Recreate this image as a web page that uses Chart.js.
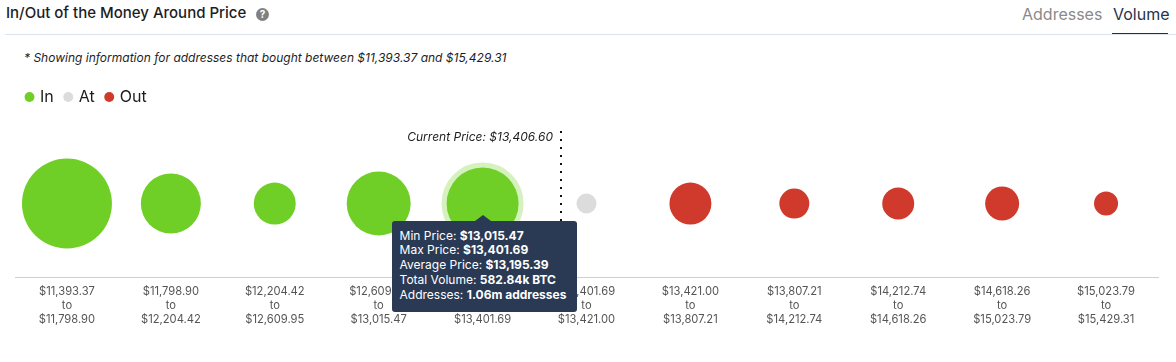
<!DOCTYPE html>
<html>
<head>
<meta charset="utf-8">
<script src="https://cdn.jsdelivr.net/npm/chart.js@4/dist/chart.umd.js"></script>
<style>
  html, body { margin: 0; padding: 0; background: #fff; font-family: Inter, sans-serif; }
  body { position: relative; width: 1176px; height: 362px; overflow: hidden; }
  #title { position: absolute; left: 6px; top: 4px; font-size: 15px; font-weight: 500; line-height: 18px; color: #1d1d1f; white-space: nowrap; }
  #help { position: absolute; left: 256px; top: 8px; width: 13px; height: 13px; border-radius: 50%; background: #808080; color: #fff; font-size: 10px; font-weight: 700; line-height: 13px; text-align: center; }
  #rule { position: absolute; left: 5px; right: 0; top: 34px; height: 1px; background: #dbe4ec; }
  .tab { position: absolute; top: 4px; font-size: 16px; line-height: 20px; white-space: nowrap; }
  #tabAddresses { left: 1022px; color: #8a8a8a; }
  #tabVolume { left: 1113px; color: #26324a; }
  #tabLine { position: absolute; left: 1112px; top: 33px; width: 56px; height: 2px; background: #1e2f5c; }
  #note { position: absolute; left: 24px; top: 50px; font-size: 12px; font-style: italic; line-height: 15px; color: #1d1d1f; white-space: nowrap; }
  #chartBox { position: absolute; left: 0; top: 77px; width: 1176px; height: 258px; }
  #tip { position: absolute; width: 185px; height: 91px; box-sizing: border-box; padding: 8px 0 0 8px; background: #2a3a55; border-radius: 3px; color: #fff; font-size: 12px; line-height: 14.8px; white-space: nowrap; }
  #tip:before { content: ''; position: absolute; left: 83px; top: -6px; border-left: 8px solid transparent; border-right: 8px solid transparent; border-bottom: 6px solid #2a3a55; }
  #tip b { font-weight: 700; }
</style>
</head>
<body>
<div id="title">In/Out of the Money Around Price</div>
<div id="help">?</div>
<div class="tab" id="tabAddresses">Addresses</div>
<div class="tab" id="tabVolume">Volume</div>
<div id="tabLine"></div>
<div id="rule"></div>
<div id="note">* Showing information for addresses that bought between $11,393.37 and $15,429.31</div>
<div id="chartBox"><canvas id="myChart"></canvas></div>
<script>
const buckets = [
  '$11,393.37 to $11,798.90',
  '$11,798.90 to $12,204.42',
  '$12,204.42 to $12,609.95',
  '$12,609.95 to $13,015.47',
  '$13,015.47 to $13,401.69',
  '$13,401.69 to $13,421.00',
  '$13,421.00 to $13,807.21',
  '$13,807.21 to $14,212.74',
  '$14,212.74 to $14,618.26',
  '$14,618.26 to $15,023.79',
  '$15,023.79 to $15,429.31',
];

// volume per bucket in thousand BTC
const inVolumes = [910, 405, 198, 460, 582.84];
const atVolumes = [45];
const outVolumes = [198, 101, 115, 130, 65];

const currentPrice = 13406.6;
const currentBucketLow = 13401.69;
const currentBucketHigh = 13421.0;
const currentBucket = 5;

const tipLines = [
  ['Min Price:', '$13,015.47'],
  ['Max Price:', '$13,401.69'],
  ['Average Price:', '$13,195.39'],
  ['Total Volume:', '582.84k BTC'],
  ['Addresses:', '1.06m addresses'],
];

const toPoints = (values, start) => values.map((v, i) => ({ x: buckets[start + i], y: 0, v }));
const bubbleRadius = (ctx) => (ctx.raw ? Math.sqrt(ctx.raw.v) * 1.491 : 0);

const currentPriceLine = {
  id: 'currentPriceLine',
  afterDatasetsDraw(chart) {
    const { ctx, scales, chartArea } = chart;
    const share = (currentPrice - currentBucketLow) / (currentBucketHigh - currentBucketLow);
    const x = Math.round(scales.x.getPixelForValue(currentBucket - 0.5 + share));
    ctx.save();
    ctx.strokeStyle = '#111';
    ctx.lineWidth = 2;
    ctx.setLineDash([2, 6]);
    ctx.beginPath();
    ctx.moveTo(x, 54);
    ctx.lineTo(x, chartArea.bottom);
    ctx.stroke();
    ctx.setLineDash([]);
    ctx.fillStyle = '#1d1d1f';
    ctx.font = 'italic 12px Inter';
    ctx.textAlign = 'right';
    ctx.textBaseline = 'middle';
    ctx.fillText('Current Price: $13,406.60', x - 8, 60);
    ctx.restore();
  },
};

const htmlTooltip = ({ chart, tooltip }) => {
  let tip = document.getElementById('tip');
  if (!tip) {
    tip = document.createElement('div');
    tip.id = 'tip';
    tip.innerHTML = tipLines.map((l) => `${l[0]} <b>${l[1]}</b>`).join('<br>');
    chart.canvas.parentNode.appendChild(tip);
  }
  tip.style.left = tooltip.caretX - 91 + 'px';
  tip.style.top = tooltip.caretY + 17 + 'px';
};

const myChart = new Chart(document.getElementById('myChart').getContext('2d'), {
  type: 'bubble',
  data: {
    labels: buckets,
    datasets: [
      { label: 'In', data: toPoints(inVolumes, 0), backgroundColor: '#6fcf27', hoverBackgroundColor: '#6fcf27', hoverBorderColor: 'rgba(111,207,39,0.3)' },
      { label: 'At', data: toPoints(atVolumes, 5), backgroundColor: '#dcdcdc', hoverBackgroundColor: '#dcdcdc' },
      { label: 'Out', data: toPoints(outVolumes, 6), backgroundColor: '#cf3a2c', hoverBackgroundColor: '#cf3a2c' },
    ],
  },
  plugins: [currentPriceLine],
  options: {
    responsive: true,
    maintainAspectRatio: false,
    animation: false,
    events: [],
    layout: { autoPadding: false, padding: { left: 15, right: 18, top: 0, bottom: 0 } },
    elements: {
      point: { radius: bubbleRadius, borderWidth: 0, hoverRadius: 0, hoverBorderWidth: 10 },
    },
    scales: {
      x: {
        type: 'category',
        offset: true,
        grid: { display: false, drawTicks: false },
        border: { color: '#c3d0ea', width: 1 },
        afterFit(scale) {
          scale.paddingLeft = 0;
          scale.paddingRight = 0;
        },
        ticks: {
          autoSkip: false,
          maxRotation: 0,
          padding: 8,
          color: '#555',
          font: { family: 'Inter', size: 11.2, lineHeight: 1.25 },
          callback(value) {
            const parts = this.getLabelForValue(value).split(' ');
            return [parts[0], parts[1], parts[2]];
          },
        },
      },
      y: { display: false, min: -73, max: 88 },
    },
    plugins: {
      legend: {
        position: 'top',
        align: 'start',
        labels: {
          usePointStyle: true,
          pointStyle: 'circle',
          boxWidth: 5,
          boxHeight: 7,
          padding: 12,
          color: '#1d1d1f',
          font: { family: 'Inter', size: 16 },
        },
      },
      tooltip: { enabled: false, external: htmlTooltip },
    },
  },
});

const active = [{ datasetIndex: 0, index: 4 }];
myChart.setActiveElements(active);
myChart.tooltip.setActiveElements(active, { x: 0, y: 0 });
myChart.update();
</script>
</body>
</html>
